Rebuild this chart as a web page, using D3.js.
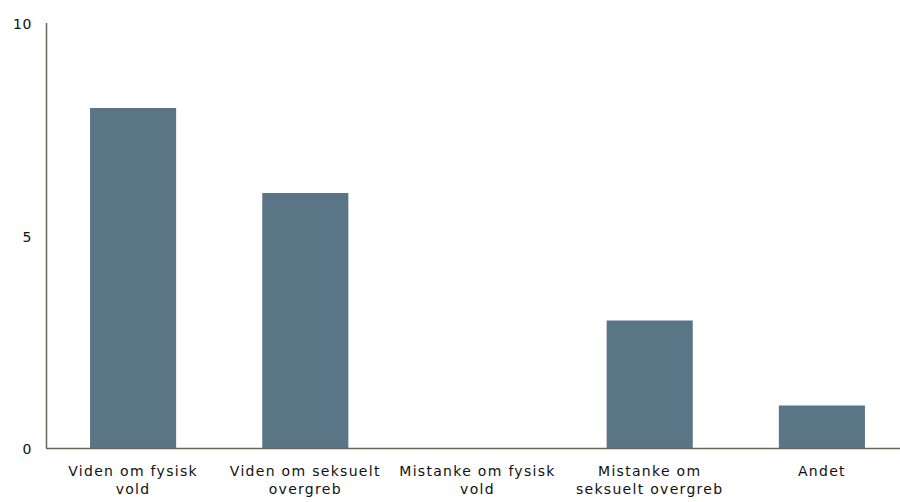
<!DOCTYPE html>
<html>
<head>
    <meta charset="utf-8" />
    <title>Chart</title>
    <script src="https://cdn.jsdelivr.net/npm/d3@7"></script>
    <style>
        body { margin: 0; background: #fff; }
        text { font-family: "DejaVu Sans", Verdana, sans-serif; font-size: 14px; fill: #111; letter-spacing: 1.3px; }
    </style>
</head>
<body>
    <svg id="chart" width="900" height="502"></svg>
    <script>
        const categories = [
            "Viden om fysisk\nvold",
            "Viden om seksuelt\novergreb",
            "Mistanke om fysisk\nvold",
            "Mistanke om\nseksuelt overgreb",
            "Andet"
        ];
        const values = [8, 6, 0, 3, 1];
        const yTicks = [0, 5, 10];

        const svg = d3.select('#chart');
        const x = d3.scaleBand().domain(categories).range([47, 908]).paddingInner(0.5).paddingOuter(0.25);
        const y = d3.scaleLinear().domain([0, 10]).range([448, 23]);

        // bars
        svg.append('g')
            .selectAll('rect')
            .data(values)
            .enter().append('rect')
            .attr('x', (d, i) => x(categories[i]))
            .attr('width', x.bandwidth())
            .attr('y', d => y(d))
            .attr('height', d => y(0) - y(d))
            .style('fill', '#5a7585');

        // axis lines
        svg.append('line')
            .attr('x1', 46.5).attr('x2', 46.5)
            .attr('y1', y(10)).attr('y2', y(0))
            .style('stroke', '#6e665a').style('stroke-width', 1.5);
        svg.append('line')
            .attr('x1', 46).attr('x2', 900)
            .attr('y1', y(0) + 0.5).attr('y2', y(0) + 0.5)
            .style('stroke', '#6e665a').style('stroke-width', 1.5);

        // y tick labels
        svg.append('g')
            .selectAll('text')
            .data(yTicks)
            .enter().append('text')
            .attr('x', 32)
            .attr('y', d => y(d) + 6)
            .attr('text-anchor', 'end')
            .style('letter-spacing', '0.6px')
            .text(d => d);

        // category labels
        const lbl = svg.append('g')
            .selectAll('text')
            .data(categories)
            .enter().append('text')
            .attr('text-anchor', 'middle')
            .attr('y', 476);
        lbl.each(function(d) {
            const t = d3.select(this);
            const cx = x(d) + x.bandwidth() / 2;
            d.split('\n').forEach((line, j) => {
                t.append('tspan')
                    .attr('x', cx)
                    .attr('y', 476 + j * 18)
                    .text(line);
            });
        });
    </script>
</body>
</html>
